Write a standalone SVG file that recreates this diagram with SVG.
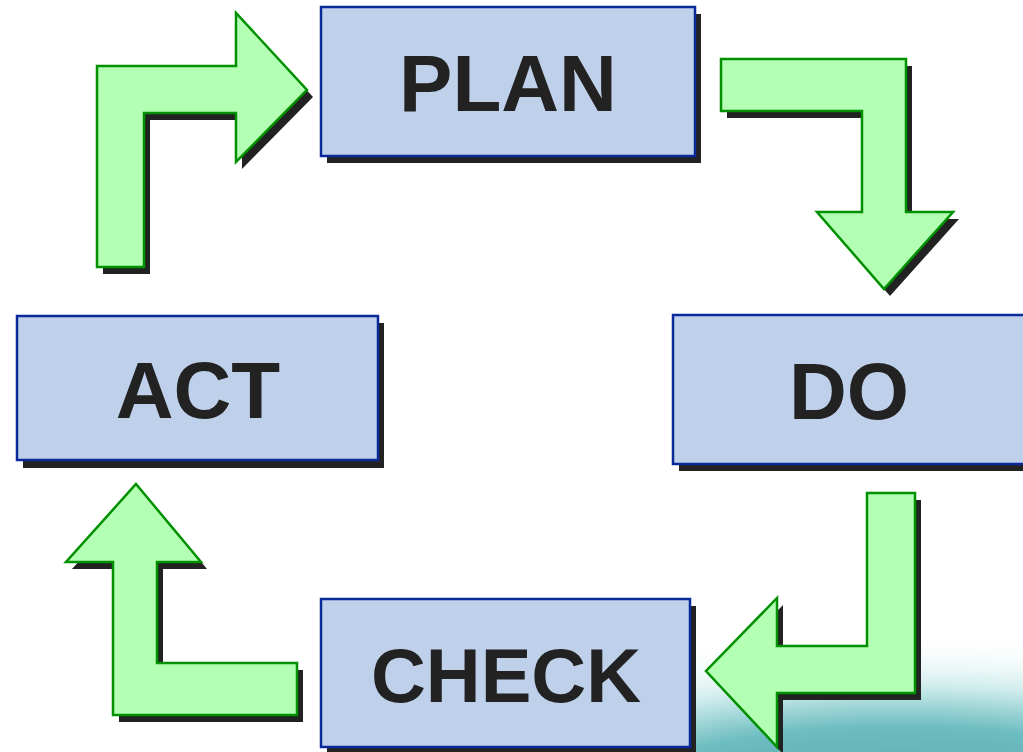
<svg xmlns="http://www.w3.org/2000/svg" width="1023" height="752" viewBox="0 0 1023 752">
<defs>
<radialGradient id="bg" cx="900" cy="820" r="620" gradientUnits="userSpaceOnUse" gradientTransform="translate(900 820) scale(1 0.3) translate(-900 -820)">
<stop offset="0" stop-color="#5a9ca4"/>
<stop offset="0.5" stop-color="#6cbcc0"/>
<stop offset="0.72" stop-color="#cfecec"/>
<stop offset="1" stop-color="#ffffff" stop-opacity="0"/>
</radialGradient>
<style>
.box{fill:#bed0ea;stroke:#0a2a9c;stroke-width:2.5}
.sh{fill:#222222}
.arr{fill:#b3ffb3;stroke:#009000;stroke-width:2.5;stroke-linejoin:miter}
.lbl{font-family:"Liberation Sans",Arial,sans-serif;font-weight:bold;font-size:80px;fill:#222222;text-anchor:middle}
</style>
</defs>
<rect width="1023" height="752" fill="#ffffff"/>
<rect x="0" y="560" width="1023" height="192" fill="url(#bg)"/>
<g id="connectors">
<g id="act-plan">
<polygon class="sh" transform="translate(6,7)" points="97,267 97,66 236,66 236,13 307,90 236,162 236,113 144,113 144,267"/>
<polygon class="arr" points="97,267 97,66 236,66 236,13 307,90 236,162 236,113 144,113 144,267"/>
</g>
<g id="plan-do">
<polygon class="sh" transform="translate(6,7)" points="721,59 906,59 906,212 953,212 884,289 817,212 862,212 862,111 721,111"/>
<polygon class="arr" points="721,59 906,59 906,212 953,212 884,289 817,212 862,212 862,111 721,111"/>
</g>
<g id="do-check">
<polygon class="sh" transform="translate(6,7)" points="867,493 915,493 915,693 777,693 777,747 706,671 777,598 777,646 867,646"/>
<polygon class="arr" points="867,493 915,493 915,693 777,693 777,747 706,671 777,598 777,646 867,646"/>
</g>
<g id="check-act">
<polygon class="sh" transform="translate(6,7)" points="136,484 201,562 157,562 157,663 297,663 297,715 113,715 113,562 66,562"/>
<polygon class="arr" points="136,484 201,562 157,562 157,663 297,663 297,715 113,715 113,562 66,562"/>
</g>
</g>
<g id="plan">
<rect class="sh" x="327" y="14" width="374" height="149"/>
<rect class="box" x="321" y="7" width="374" height="149"/>
<text class="lbl" x="508" y="111">PLAN</text>
</g>
<g id="do">
<rect class="sh" x="679" y="322" width="352" height="149"/>
<rect class="box" x="673" y="315" width="352" height="149"/>
<text class="lbl" x="849" y="419">DO</text>
</g>
<g id="check">
<rect class="sh" x="327" y="606" width="369" height="148"/>
<rect class="box" x="321" y="599" width="369" height="148"/>
<text class="lbl" x="506" y="702" style="font-size:76px">CHECK</text>
</g>
<g id="act">
<rect class="sh" x="23" y="323" width="361" height="145"/>
<rect class="box" x="17" y="316" width="361" height="144"/>
<text class="lbl" x="198" y="418">ACT</text>
</g>
</svg>
